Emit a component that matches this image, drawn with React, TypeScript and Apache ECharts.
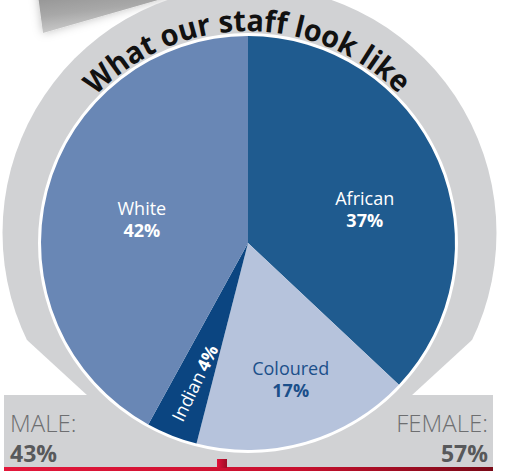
import React, { useEffect, useRef } from "react";
import * as echarts from "echarts";

const categories = ["African", "Coloured", "Indian", "White"];
const values = [37, 17, 4, 42];
const sliceColors = ["#1f5b8f", "#b6c3dc", "#0b4581", "#6987b5"];
const labelColors = ["#ffffff", "#1b4f8a", "#ffffff", "#ffffff"];
// offsets are in each label's own (rotated) frame
const labelOffsets = [[19, 8], [13, 34], [-43, 5], [-3, 2]];
const titleText = "What our staff look like";
const genderLabels = ["MALE:", "FEMALE:"];
const genderValues = ["43%", "57%"];

const FONT = '"Open Sans", "Noto Sans", sans-serif';

export default function App() {
  const ref = useRef<HTMLDivElement>(null);
  useEffect(() => {
    if (!ref.current) return;
    const chart = echarts.init(ref.current, null, { renderer: "svg" });
    const cx = 248, cy = 243, pr = 207;

    // curved title
    const fs = 30;
    const lh = 22;
    const canvas = document.createElement("canvas");
    const ctx = canvas.getContext("2d")!;
    ctx.font = `bold ${fs}px "Open Sans"`;
    const widths = titleText.split("").map((c) => ctx.measureText(c).width);
    const total = widths.reduce((a, b) => a + b, 0);
    const rb = 212;
    const target = 338;
    const sc = target / total;
    const start = (-46 * Math.PI) / 180;
    let acc = 0;
    const titleEls: any[] = titleText.split("").map((ch, i) => {
      const w = widths[i] * sc;
      const th = start + (acc + w / 2) / rb;
      acc += w;
      const r = rb;
      return {
        type: "text",
        x: cx + r * Math.sin(th),
        y: cy - r * Math.cos(th),
        rotation: -th,
        scaleX: sc,
        z: 10,
        style: {
          text: ch,
          font: `bold ${fs}px ${FONT}`,
          lineHeight: lh,
          fill: "#111111",
          align: "center",
          verticalAlign: "bottom",
        },
      };
    });

    const gray = "#d1d2d4";
    const graphics: any[] = [
      {
        type: "polygon",
        shape: { points: [[36, -20], [205, -20], [165, -2], [43, 33]] },
        style: {
          fill: new echarts.graphic.LinearGradient(0, 0, 0.4, 1, [
            { offset: 0, color: "#858585" },
            { offset: 0.6, color: "#a8a8a8" },
            { offset: 1, color: "#d6d6d6" },
          ]),
          shadowBlur: 10,
          shadowColor: "rgba(0,0,0,0.25)",
        },
        z: 0,
      },
      {
        type: "circle",
        shape: { cx: 249.5, cy: 233, r: 247 },
        style: { fill: gray },
        z: 1,
      },
      {
        type: "polygon",
        shape: { points: [[0, 340], [27, 340], [88, 396], [0, 396]] },
        style: { fill: "#ffffff" },
        z: 1,
      },
      {
        type: "polygon",
        shape: { points: [[506, 340], [472, 340], [411, 396], [506, 396]] },
        style: { fill: "#ffffff" },
        z: 1,
      },
      {
        type: "rect",
        shape: { x: 4, y: 395, width: 489, height: 73 },
        style: { fill: gray },
        z: 1,
      },
      {
        type: "rect",
        shape: { x: 4, y: 467, width: 489, height: 4 },
        style: {
          fill: new echarts.graphic.LinearGradient(0, 0, 1, 0, [
            { offset: 0, color: "#e3173b" },
            { offset: 0.6, color: "#c8102e" },
            { offset: 1, color: "#7a0a18" },
          ]),
        },
        z: 1,
      },
      {
        type: "rect",
        shape: { x: 217, y: 459, width: 10, height: 9 },
        style: {
          fill: new echarts.graphic.LinearGradient(0, 0, 1, 0, [
            { offset: 0, color: "#e3123a" },
            { offset: 1, color: "#9c0c24" },
          ]),
        },
        z: 1,
      },
      {
        type: "circle",
        shape: { cx, cy, r: pr + 3 },
        style: { fill: "#ffffff" },
        z: 1,
      },
      {
        type: "text",
        x: 10,
        y: 422,
        z: 2,
        style: {
          text: genderLabels[0],
          font: `300 24px ${FONT}`,
          fill: "#6d6e70",
          align: "left",
          verticalAlign: "middle",
        },
      },
      {
        type: "text",
        x: 10,
        y: 453,
        z: 2,
        style: {
          text: genderValues[0],
          font: `bold 23px ${FONT}`,
          fill: "#58595b",
          align: "left",
          verticalAlign: "middle",
        },
      },
      {
        type: "text",
        x: 488,
        y: 422,
        z: 2,
        style: {
          text: genderLabels[1],
          font: `300 24px ${FONT}`,
          fill: "#6d6e70",
          align: "right",
          verticalAlign: "middle",
        },
      },
      {
        type: "text",
        x: 488,
        y: 453,
        z: 2,
        style: {
          text: genderValues[1],
          font: `bold 23px ${FONT}`,
          fill: "#58595b",
          align: "right",
          verticalAlign: "middle",
        },
      },
      ...titleEls,
    ];

    const data = categories.map((name, i) => {
      const inline = name === "Indian";
      return {
        name,
        value: values[i],
        itemStyle: { color: sliceColors[i] },
        label: {
          color: labelColors[i],
          rotate: inline ? 64 : 0,
          formatter: inline
            ? `{n|${name}} {p|${values[i]}%}`
            : `{n|${name}}\n{p|${values[i]}%}`,
          rich: {
            n: { fontFamily: FONT, fontSize: 18, fontWeight: "normal", color: labelColors[i], lineHeight: 22 },
            p: { fontFamily: FONT, fontSize: 18, fontWeight: "bold", color: labelColors[i], lineHeight: 22 },
          },
        },
      };
    });

    chart.setOption({
      animation: false,
      graphic: { elements: graphics },
      series: [
        {
          type: "pie",
          center: [cx, cy],
          radius: [0, pr],
          startAngle: 90,
          clockwise: true,
          silent: true,
          z: 3,
          itemStyle: { borderWidth: 0 },
          label: { show: true, position: "inside", align: "center" },
          labelLine: { show: false },
          labelLayout: (params: any) => ({
            dx: labelOffsets[params.dataIndex][0],
            dy: labelOffsets[params.dataIndex][1],
          }),
          emphasis: { disabled: true },
          data,
        },
      ],
    });
    return () => chart.dispose();
  }, []);
  return (
    <div
      ref={ref}
      style={{ position: "fixed", left: 0, top: 0, width: 506, height: 471, background: "#ffffff" }}
    />
  );
}
